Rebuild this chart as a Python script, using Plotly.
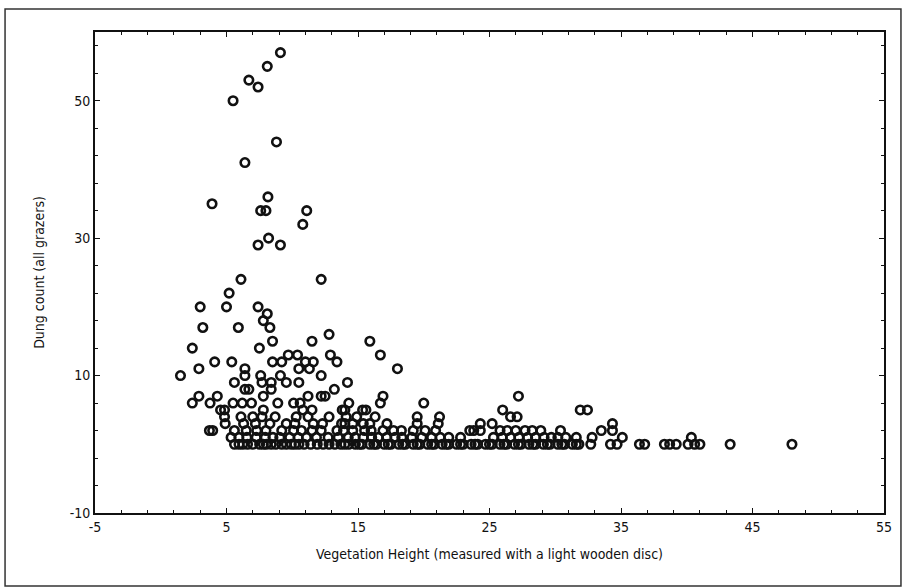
import plotly.graph_objects as go

# ---- data (vegetation height, dung count) ----
veg_height = [
    # high counts
    9.1, 8.1, 6.7, 7.4, 5.5, 8.8, 6.4, 8.15, 3.9, 7.6, 8.0, 11.1, 10.8, 8.2, 7.4, 9.1,
    6.1, 12.2, 5.2, 3.0, 5.0, 7.4, 8.1, 7.8, 8.3, 3.2, 5.9, 12.8, 11.5, 8.5, 15.9, 2.4, 7.5,
    # 13
    9.7, 10.4, 12.9, 16.7,
    # 12
    4.1, 5.4, 8.5, 9.2, 11.0, 11.6, 13.4,
    # 11
    2.9, 6.4, 10.5, 11.3, 18.0,
    # 10
    1.5, 6.4, 7.6, 9.1, 12.2,
    # 9
    5.6, 7.7, 8.4, 9.55, 10.5, 14.2,
    # 8
    6.4, 6.7, 8.4, 13.2,
    # 7
    2.9, 4.3, 7.8, 11.2, 12.2, 12.5, 16.9, 27.2,
    # 6
    2.4, 3.75, 5.5, 6.2, 6.9, 8.9, 10.1, 10.6, 14.3, 16.7, 20.0,
    # 5
    4.55, 4.85, 7.8, 10.8, 11.5, 13.8, 14.0, 15.35, 15.6, 26.0, 31.9, 32.45,
    # 4
    4.85, 6.1, 7.0, 7.7, 8.7, 10.3, 11.2, 12.8, 14.1, 14.9, 16.3, 19.5, 21.2, 26.6, 27.1,
    # 3
    4.9, 6.3, 7.2, 8.3, 9.55, 10.2, 11.6, 12.3, 13.75, 14.0, 14.6, 15.4, 15.9, 17.2, 19.5,
    21.1, 24.3, 25.2, 34.35,
    # 2
    3.7, 3.95, 5.6, 6.5, 7.3, 8.0, 9.2, 10.1, 10.7, 11.5, 12.2, 13.4, 13.9, 14.6, 15.5,
    16.0, 16.9, 17.7, 18.3, 19.2, 20.1, 20.9, 23.5, 23.8, 24.3, 25.8, 26.35, 27.0, 27.7,
    28.25, 28.9, 30.4, 33.5, 34.35,
    # 1
    5.35, 5.94, 6.55, 7.26, 7.95, 8.53, 9.05, 9.81, 10.45, 11.08, 11.84, 12.73, 13.5,
    14.26, 14.77, 15.4, 16.04, 16.55, 17.18, 17.82, 18.33, 19.09, 19.85, 20.6, 21.25,
    21.9, 22.8, 25.3, 25.97, 26.6, 27.24, 27.9, 28.5, 29.15, 29.7, 30.2, 30.8, 31.6,
    32.8, 35.1, 40.35,
    # 0
    5.61, 5.95, 6.24, 6.6, 7.0, 7.52, 7.8, 8.03, 8.4, 8.75, 9.2, 9.55, 9.93, 10.2, 10.51,
    10.9, 11.4, 11.9, 12.35, 12.8, 13.24,
    13.7, 14.0, 14.3, 14.8, 15.1, 15.3, 15.9, 16.2, 16.4, 17.0, 17.3, 17.5, 18.1, 18.4,
    18.6, 19.2, 19.5, 19.7, 20.3, 20.6, 20.8, 21.4, 21.7, 21.9, 22.5, 22.8, 23.0, 23.6,
    23.9, 24.1, 24.7, 25.0, 25.2, 25.8, 26.1, 26.3, 26.9, 27.2, 27.4, 28.0, 28.3, 28.5,
    29.1, 29.4, 29.6, 30.2, 30.5, 30.7, 31.3, 31.6, 31.8, 32.7, 34.2, 34.7, 36.4, 36.8,
    38.3, 38.7, 39.2, 40.1, 40.6, 41.0, 43.3, 48.0,
]

dung_count = (
    [57, 55, 53, 52, 50, 44, 41, 36, 35, 34, 34, 34, 32, 30, 29, 29,
     24, 24, 22, 20, 20, 20, 19, 18, 17, 17, 17, 16, 15, 15, 15, 14, 14]
    + [13] * 4 + [12] * 7 + [11] * 5 + [10] * 5 + [9] * 6 + [8] * 4 + [7] * 8
    + [6] * 11 + [5] * 12 + [4] * 15 + [3] * 19 + [2] * 34 + [1] * 41 + [0] * 87
)

x_ticks = [-5, 5, 15, 25, 35, 45, 55]
y_ticks = [-10, 10, 30, 50]

FONT = "Liberation Sans Narrow, Arial Narrow, DejaVu Sans Condensed, sans-serif"

fig = go.Figure(
    go.Scatter(
        x=veg_height,
        y=dung_count,
        mode="markers",
        marker=dict(symbol="circle-open", size=8.5, color="#111111",
                    line=dict(width=2.6, color="#111111")),
        showlegend=False,
    )
)

axis_common = dict(
    showline=True, linecolor="#111111", linewidth=1.6, mirror="allticks",
    ticks="inside", ticklen=5, tickwidth=1.2, tickcolor="#111111",
    showgrid=False, zeroline=False,
    tickfont=dict(family=FONT, size=14, color="#111111"),
)

fig.update_xaxes(
    range=[-5, 55], tickmode="array", tickvals=x_ticks,
    ticktext=[str(v) for v in x_ticks],
    minor=dict(dtick=2, tick0=-5, ticks="inside", ticklen=3, tickcolor="#111111", showgrid=False),
    title=dict(text="Vegetation Height (measured with a light wooden disc)",
               font=dict(family=FONT, size=14, color="#111111"), standoff=16),
    **axis_common,
)
fig.update_yaxes(
    range=[-10, 60], tickmode="array", tickvals=y_ticks,
    ticktext=[str(v) for v in y_ticks],
    minor=dict(dtick=4, tick0=-10, ticks="inside", ticklen=3, tickcolor="#111111", showgrid=False),
    title=dict(text="Dung count (all grazers)",
               font=dict(family=FONT, size=14, color="#111111"), standoff=22),
    **axis_common,
)

fig.update_layout(
    width=906, height=588,
    margin=dict(l=95, r=22, t=32, b=75),
    paper_bgcolor="white", plot_bgcolor="white",
    shapes=[dict(type="rect", xref="paper", yref="paper",
                 x0=-0.114, x1=1.0215, y0=-0.152, y1=1.048,
                 line=dict(color="#333333", width=1.5), layer="below")],
)

fig.write_html("out.html")
